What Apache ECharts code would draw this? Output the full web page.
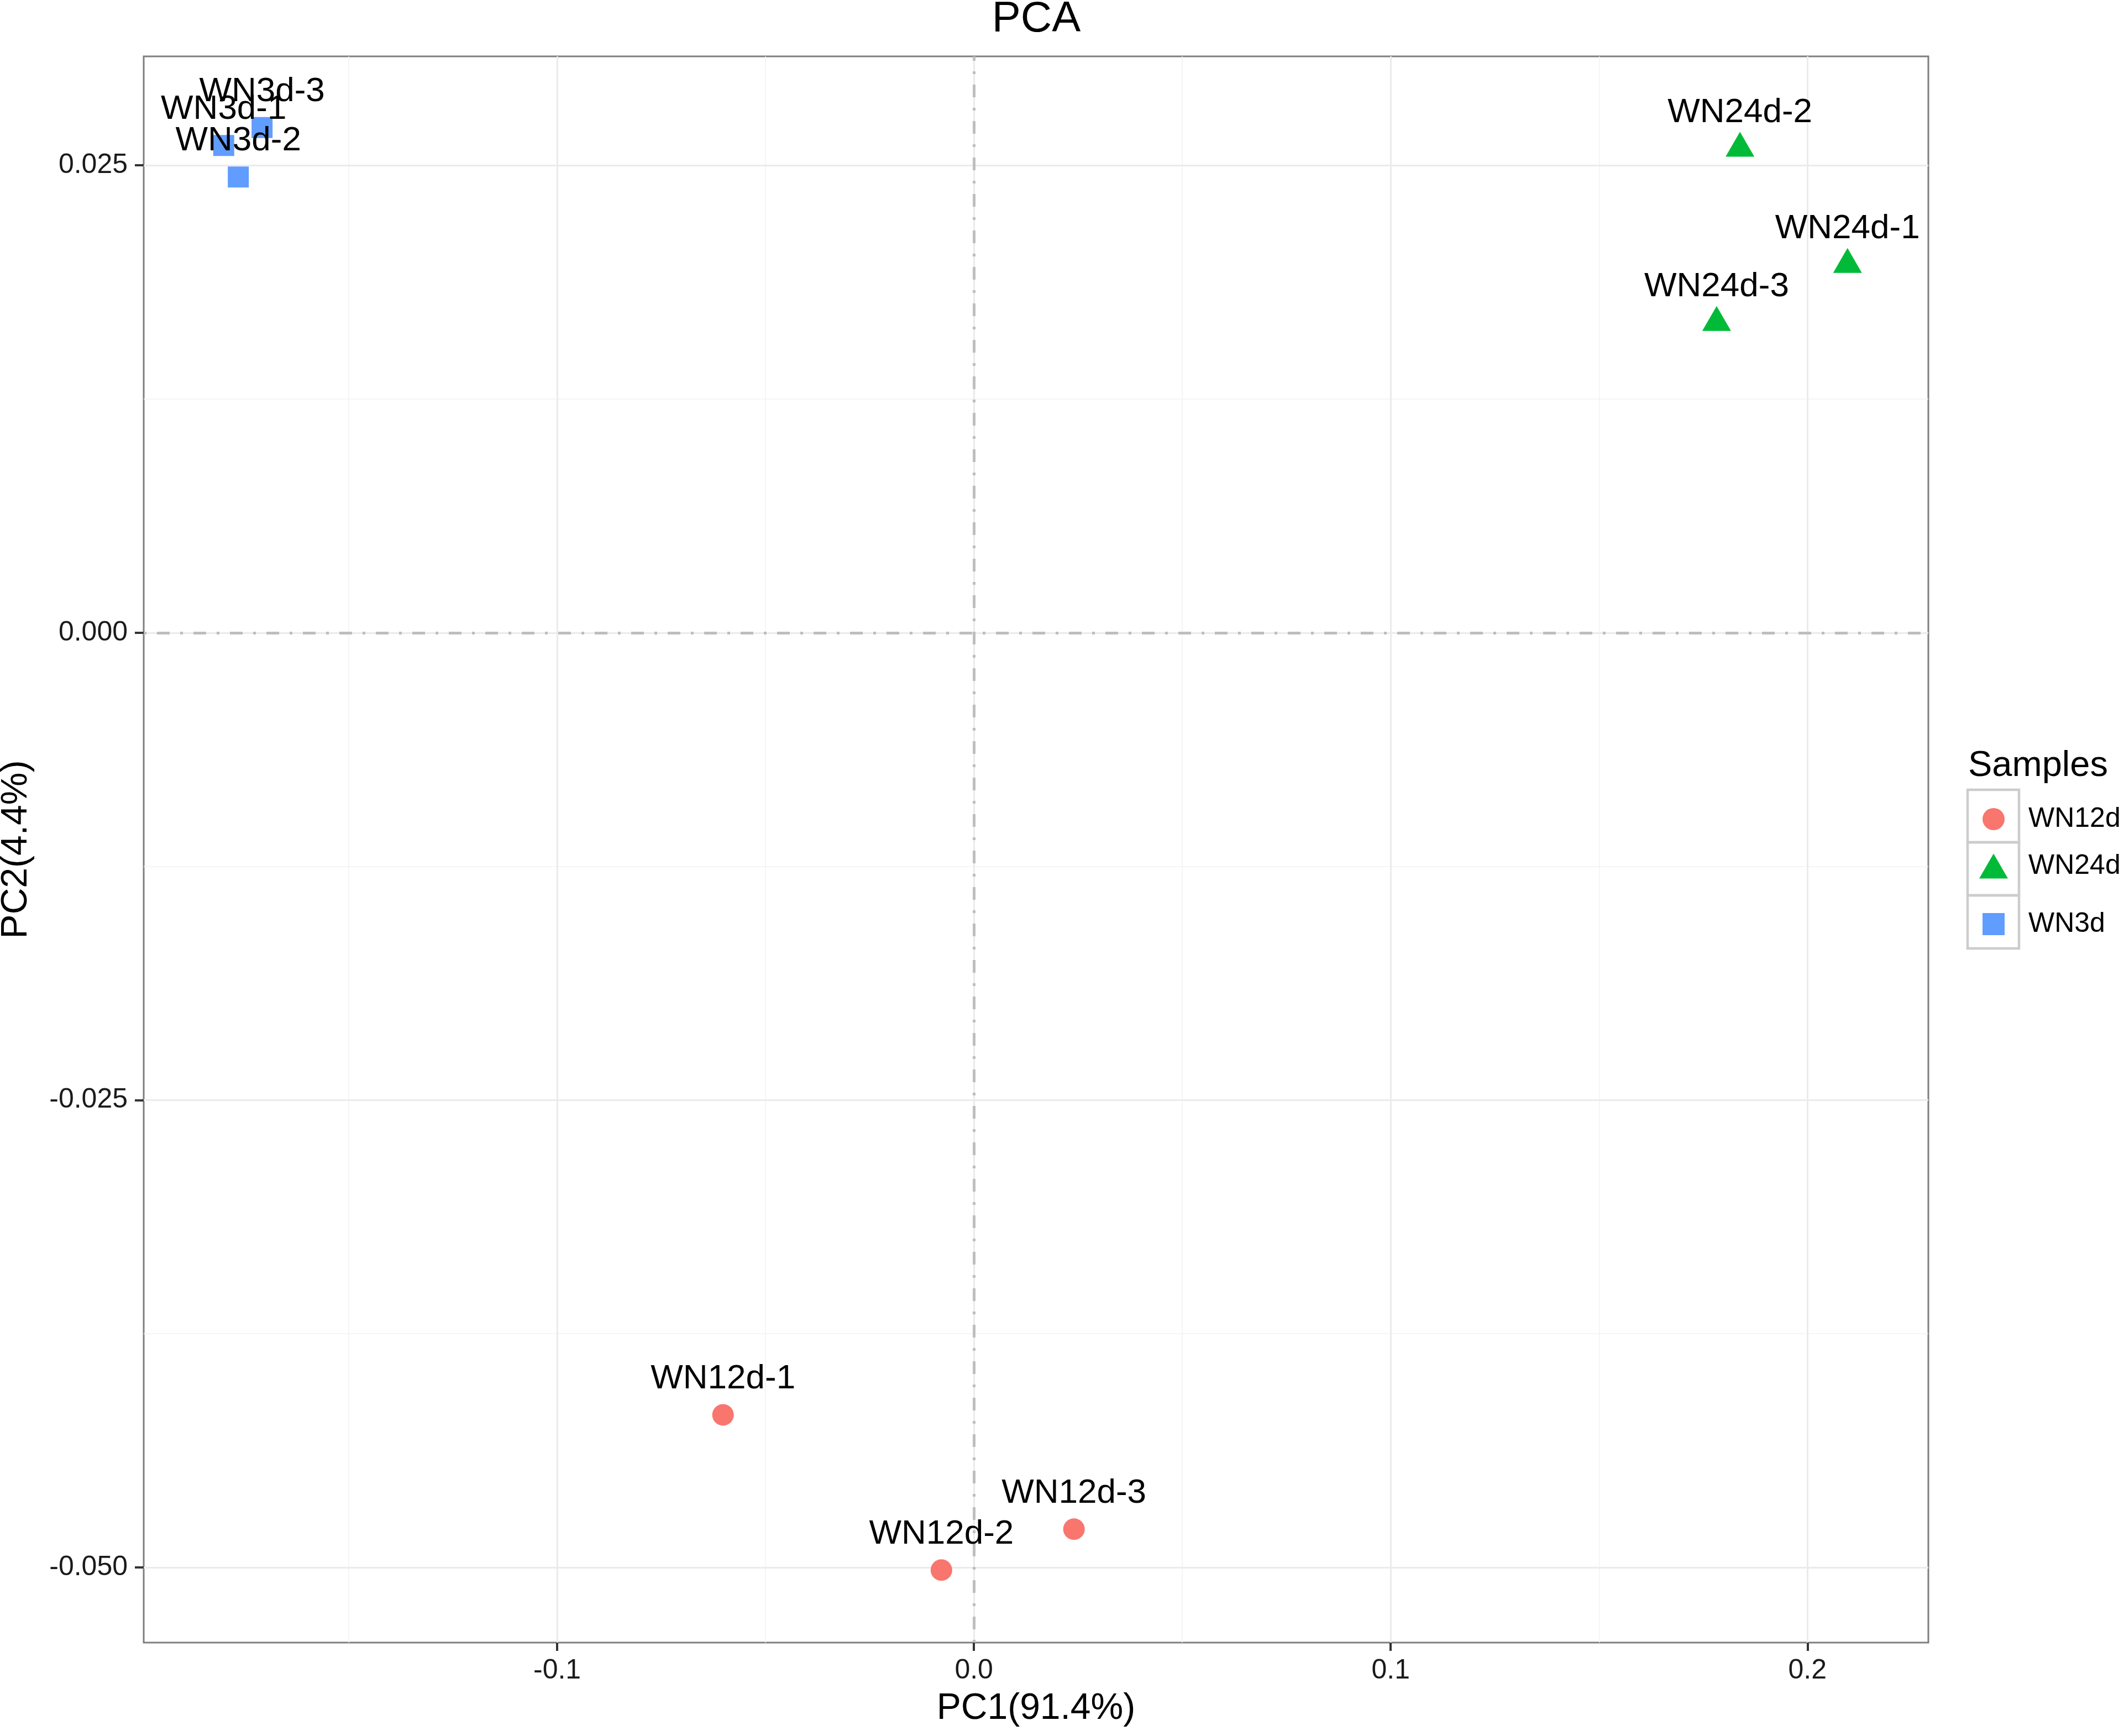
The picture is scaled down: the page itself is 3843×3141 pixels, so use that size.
<!DOCTYPE html>
<html>
<head>
    <title>PCA</title>
    <meta http-equiv="Content-Type" content="text/html; charset=utf-8"/>
    <script src="https://cdn.jsdelivr.net/npm/echarts@6/dist/echarts.min.js"></script>
    <style>
        body { margin: 0; background: #fff; }
        #main { width: 3843px; height: 3141px; }
    </style>
</head>
<body>
<div id="main"></div>
<script type="text/javascript">
    // sample groups and points (PC1, PC2)
    var groups = ['WN12d', 'WN24d', 'WN3d'];

    var wn12dNames = ['WN12d-1', 'WN12d-2', 'WN12d-3'];
    var wn12dX = [-0.0602, -0.0078, 0.0240];
    var wn12dY = [-0.04184, -0.05014, -0.04795];

    var wn24dNames = ['WN24d-1', 'WN24d-2', 'WN24d-3'];
    var wn24dX = [0.2096, 0.1838, 0.1782];
    var wn24dY = [0.01969, 0.02591, 0.01659];

    var wn3dNames = ['WN3d-1', 'WN3d-2', 'WN3d-3'];
    var wn3dX = [-0.1800, -0.1765, -0.1708];
    var wn3dY = [0.02606, 0.02438, 0.02702];

    // axis ticks
    var xTicks = [-0.1, 0, 0.1, 0.2];
    var yTicks = [-0.05, -0.025, 0, 0.025];
    var xMinor = [-0.15, -0.05, 0.05, 0.15];
    var yMinor = [-0.0375, -0.0125, 0.0125];

    var colors = ['#F8766D', '#00BA38', '#619CFF'];
    var font = "'Liberation Sans', Arial, Helvetica, sans-serif";

    function points(names, xs, ys) {
        return names.map(function (n, i) {
            return {name: n, value: [xs[i], ys[i]]};
        });
    }

    // panel grid + zero lines, drawn as mark lines under the points
    var majorStyle = {color: '#ebebeb', width: 3, type: 'solid'};
    var minorStyle = {color: '#f2f2f2', width: 1.5, type: 'solid'};
    var zeroStyle = {color: '#bebebe', width: 5, type: [5, 19, 23, 19]};
    var gridLines = [];
    xMinor.forEach(function (v) { gridLines.push({xAxis: v, lineStyle: minorStyle}); });
    yMinor.forEach(function (v) { gridLines.push({yAxis: v, lineStyle: minorStyle}); });
    xTicks.forEach(function (v) { gridLines.push({xAxis: v, lineStyle: majorStyle}); });
    yTicks.forEach(function (v) { gridLines.push({yAxis: v, lineStyle: majorStyle}); });
    gridLines.push({xAxis: 0, lineStyle: zeroStyle});
    gridLines.push({yAxis: 0, lineStyle: zeroStyle});

    var labelStyle = {
        show: true,
        position: 'inside',
        offset: [0, -65],
        formatter: '{b}',
        color: '#000',
        fontFamily: font,
        fontSize: 62
    };

    var dom = document.getElementById('main');
    var myChart = echarts.init(dom, null, {renderer: 'canvas'});

    var option = {
        animation: false,
        backgroundColor: '#fff',
        title: [
            {
                text: 'PCA',
                left: 1875,
                top: -4,
                textAlign: 'center',
                padding: 0,
                textStyle: {fontFamily: font, fontSize: 78, lineHeight: 78, fontWeight: 'normal', color: '#000'}
            },
            {
                text: 'Samples',
                left: 3561,
                top: 1354,
                padding: 0,
                textStyle: {fontFamily: font, fontSize: 65, lineHeight: 65, fontWeight: 'normal', color: '#000'}
            }
        ],
        legend: [
            {
                data: ['WN12d'], icon: 'circle', left: 3587, top: 1457, padding: 0,
                itemWidth: 40, itemHeight: 40, selectedMode: false,
                textStyle: {fontFamily: font, fontSize: 50, color: '#000', padding: [4, 0, 0, 38]}
            },
            {
                data: ['WN24d'], icon: 'triangle', left: 3581, top: 1542, padding: 0,
                itemWidth: 52, itemHeight: 45, selectedMode: false,
                textStyle: {fontFamily: font, fontSize: 50, color: '#000', padding: [18, 0, 0, 32]}
            },
            {
                data: ['WN3d'], icon: 'rect', left: 3587, top: 1647, padding: 0,
                itemWidth: 40, itemHeight: 40, selectedMode: false,
                textStyle: {fontFamily: font, fontSize: 50, color: '#000', padding: [2, 0, 0, 38]}
            }
        ],
        // legend key boxes
        graphic: [
            {type: 'rect', shape: {x: 3560, y: 1429, width: 93, height: 95}, style: {fill: 'none', stroke: '#cccccc', lineWidth: 4.5}, z: 0},
            {type: 'rect', shape: {x: 3560, y: 1524, width: 93, height: 96}, style: {fill: 'none', stroke: '#cccccc', lineWidth: 4.5}, z: 0},
            {type: 'rect', shape: {x: 3560, y: 1620, width: 93, height: 96}, style: {fill: 'none', stroke: '#cccccc', lineWidth: 4.5}, z: 0}
        ],
        grid: {
            left: 260,
            right: 354,
            top: 102,
            bottom: 169,
            show: true,
            backgroundColor: 'transparent',
            borderColor: '#7f7f7f',
            borderWidth: 3,
            containLabel: false,
            outerBoundsMode: 'none'
        },
        xAxis: {
            type: 'value',
            min: -0.1992,
            max: 0.2290,
            name: 'PC1(91.4%)',
            nameLocation: 'middle',
            nameGap: 87,
            nameTextStyle: {fontFamily: font, fontSize: 66, lineHeight: 66, color: '#000'},
            axisLine: {show: false, onZero: false},
            splitLine: {show: false},
            axisTick: {
                show: true, length: 15, customValues: xTicks,
                lineStyle: {color: '#333', width: 4}
            },
            axisLabel: {
                customValues: xTicks,
                margin: 26,
                fontFamily: font,
                fontSize: 50,
                lineHeight: 50,
                color: '#1a1a1a',
                formatter: function (v) { return v.toFixed(1); }
            }
        },
        yAxis: {
            type: 'value',
            min: -0.05402,
            max: 0.03083,
            name: 'PC2(4.4%)',
            nameLocation: 'middle',
            nameGap: 197,
            nameRotate: 90,
            nameTextStyle: {fontFamily: font, fontSize: 66, lineHeight: 66, color: '#000'},
            axisLine: {show: false, onZero: false},
            splitLine: {show: false},
            axisTick: {
                show: true, length: 16, customValues: yTicks,
                lineStyle: {color: '#333', width: 4}
            },
            axisLabel: {
                customValues: yTicks,
                margin: 29,
                padding: [10, 0, 0, 0],
                fontFamily: font,
                fontSize: 50,
                lineHeight: 50,
                color: '#1a1a1a',
                formatter: function (v) { return v.toFixed(3); }
            }
        },
        series: [
            {
                name: groups[0],
                type: 'scatter',
                symbol: 'circle',
                symbolSize: 39,
                itemStyle: {color: colors[0], opacity: 1},
                label: labelStyle,
                data: points(wn12dNames, wn12dX, wn12dY),
                markLine: {
                    z: 1,
                    silent: true,
                    animation: false,
                    precision: 6,
                    symbol: ['none', 'none'],
                    label: {show: false},
                    emphasis: {disabled: true},
                    data: gridLines
                }
            },
            {
                name: groups[1],
                type: 'scatter',
                symbol: 'triangle',
                symbolSize: [52, 45],
                symbolOffset: [0, -7.5],
                itemStyle: {color: colors[1], opacity: 1},
                label: Object.assign({}, labelStyle, {offset: [0, -57.5]}),
                data: points(wn24dNames, wn24dX, wn24dY)
            },
            {
                name: groups[2],
                type: 'scatter',
                symbol: 'rect',
                symbolSize: 38,
                itemStyle: {color: colors[2], opacity: 1},
                label: labelStyle,
                data: points(wn3dNames, wn3dX, wn3dY)
            }
        ]
    };

    if (option && typeof option === 'object') {
        myChart.setOption(option);
    }

    window.addEventListener('resize', myChart.resize);
</script>
</body>
</html>
